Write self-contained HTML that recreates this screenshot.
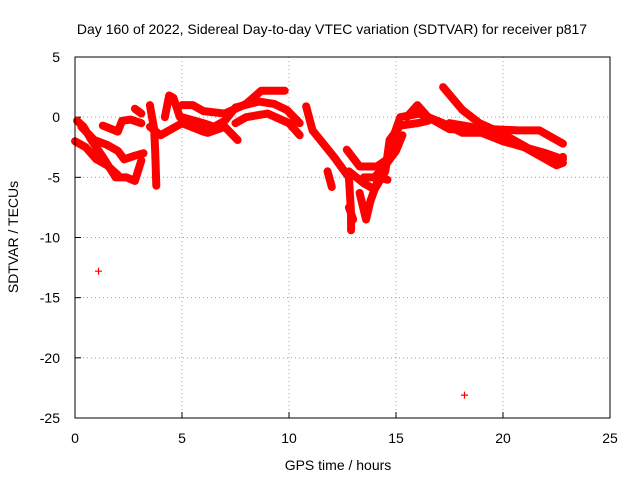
<!DOCTYPE html>
<html><head><meta charset="utf-8"><style>
body{margin:0;background:#fff;font-family:"Liberation Sans",sans-serif}
svg text{font-family:"Liberation Sans",sans-serif;font-size:14px;fill:#000}
</style></head><body>
<svg id="chart" width="640" height="480">
<rect width="640" height="480" fill="#fff"/>
<text x="332" y="34" text-anchor="middle">Day 160 of 2022, Sidereal Day-to-day VTEC variation (SDTVAR) for receiver p817</text>
<text x="338" y="470" text-anchor="middle">GPS time / hours</text>
<text transform="translate(18,237) rotate(-90)" text-anchor="middle">SDTVAR / TECUs</text>
<g id="grid"></g><g id="data"></g>
<rect x="75" y="57" width="535" height="361" fill="none" stroke="#000" stroke-width="1"/>
</svg>
<script>
const xTicks=[0,5,10,15,20,25];
const yTicks=[5,0,-5,-10,-15,-20,-25];
const tracks=[
[[0.1,-0.3],[0.4,-0.8],[0.8,-2],[1.3,-3.3],[1.9,-5],[2.4,-5],[2.8,-5.3],[3.1,-3.6]],
[[0,-2],[0.5,-2.5],[1,-3.5],[1.5,-4],[2,-4.8]],
[[0.3,-0.8],[0.9,-1.9],[1.5,-2.3],[2,-2.8],[2.3,-3.5],[2.8,-3.2],[3.2,-3]],
[[1.3,-0.7],[2,-1.2],[2.2,-0.3],[2.6,-0.2],[3.1,-0.5]],
[[2.8,0.7],[3.1,0.3]],
[[3.5,1],[3.7,-1],[3.75,-3],[3.8,-5.7]],
[[3.5,-0.8],[4,-1.5],[4.5,-1],[5,-0.5],[5.5,-0.3],[6,-0.6]],
[[4.2,0],[4.4,1.8],[4.6,1.6],[4.9,0]],
[[5,0],[6,-0.5],[6.5,-0.8],[7,-0.3],[7.5,0.8],[8.6,1.3],[9.3,1.1],[9.9,0.6],[10.5,-0.5]],
[[5,1],[5.5,1],[6,0.5],[7,0.3],[8,1.1],[8.7,2.2],[9.8,2.2]],
[[5,-0.5],[6,-1.2],[6.2,-1.3],[7,-0.8],[7.6,-1.9]],
[[7.5,-0.5],[8,0],[9,0.3],[10,-0.5],[10.5,-1.5]],
[[10.8,0.9],[11.1,-1.1],[12.1,-3.3],[12.8,-5],[12.9,-8],[12.9,-9.4]],
[[12.7,-2.7],[13.3,-4.1],[14.1,-4.1],[14.6,-3.5],[14.8,-2],[15.2,0],[16.1,0.3],[17.2,-0.5],[18.1,-1.3],[19,-1.3],[20,-2],[21,-2.5],[22,-3],[22.8,-3.5]],
[[13.3,-6.3],[13.6,-8.5],[13.8,-7],[14.2,-5],[14.6,-5.2]],
[[12.8,-4.5],[13.5,-5.5],[14,-6],[14.5,-4.5],[14.7,-1.9],[15.2,-0.7],[16,-0.5],[16.5,-0.3]],
[[13.5,-5],[14,-5],[14.5,-4],[15,-2.8],[15.3,-1.5]],
[[15.5,0],[16,1],[16.5,0],[17,-0.5],[17.5,-1],[18,-1]],
[[17.2,2.5],[18.1,0.6],[18.9,-0.5],[19.9,-1.3],[21.1,-2.5],[22.3,-3.8],[22.8,-3.3]],
[[19.5,-1],[20.7,-1.1],[21.7,-1.1],[22.8,-2.2]],
[[17.5,-0.5],[18.5,-0.8],[19.5,-1.5],[20.5,-2],[21.5,-3],[22,-3.5],[22.5,-4],[22.8,-3.8]],
[[11.8,-4.5],[12,-5.8]],
[[12.8,-7.5],[12.9,-8],[13,-8.5]]
];
const outliers=[[1.1,-12.8],[18.2,-23.1]];
const X=v=>75+v*535/25;
const Y=v=>57+(5-v)*361/30;
const NS='http://www.w3.org/2000/svg';
const grid=document.getElementById('grid'),data=document.getElementById('data');
function mk(t,a,p){const e=document.createElementNS(NS,t);for(const k in a)e.setAttribute(k,a[k]);p.appendChild(e);return e;}
xTicks.forEach(t=>{
 if(t>0&&t<25){const l=mk('line',{x1:X(t),x2:X(t),y1:57,y2:418,stroke:'#a0a0a0','stroke-dasharray':'1,3'},grid);
 
 }
 const tk=mk('text',{x:X(t),y:443,'text-anchor':'middle'},grid);tk.textContent=t;
 
 
 mk('line',{x1:X(t),x2:X(t),y1:418,y2:412,stroke:'#000'},grid);
});
yTicks.forEach(t=>{
 if(t<5&&t>-25){const l=mk('line',{x1:75,x2:610,y1:Y(t),y2:Y(t),stroke:'#a0a0a0','stroke-dasharray':'1,3'},grid);
 
 }
 const tk=mk('text',{x:60,y:Y(t)+5,'text-anchor':'end'},grid);tk.textContent=t;
 
 
 mk('line',{x1:75,x2:81,y1:Y(t),y2:Y(t),stroke:'#000'},grid);
});
function plus(x,y){const p=mk('path',{d:`M${X(x)-3.5},${Y(y)}h7M${X(x)},${Y(y)-3.5}v7`,stroke:'#f00','stroke-width':1.2},data);
 
 }
tracks.forEach(tr=>{
 const pl=mk('polyline',{points:tr.map(p=>X(p[0])+','+Y(p[1])).join(' '),fill:'none',stroke:'#f00','stroke-width':8,'stroke-linejoin':'round','stroke-linecap':'round'},data);
 
 
 tr.forEach(p=>plus(p[0],p[1]));
});
outliers.forEach(p=>plus(p[0],p[1]));
</script>
</body></html>
